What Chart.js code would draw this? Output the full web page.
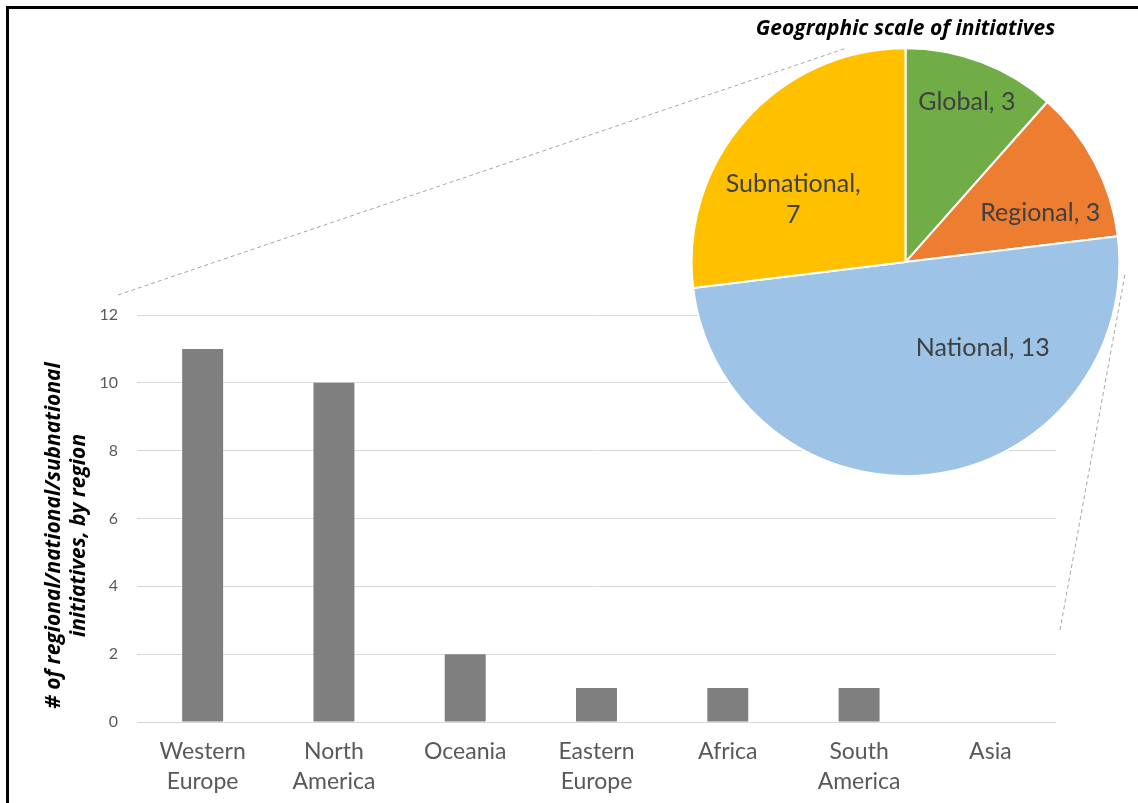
<!DOCTYPE html>
<html>
<head>
<meta charset="utf-8">
<script src="https://cdn.jsdelivr.net/npm/chart.js@4.4.1/dist/chart.umd.min.js"></script>
<style>
  html, body { margin: 0; padding: 0; background: #fff; overflow: hidden; }
  #frame { position: absolute; left: 6px; top: 6px; width: 1140px; height: 800px; border: 3px solid #000; }
  #bar-chart { position: absolute; left: 0; top: 0; }
  #pie-chart { position: absolute; left: 690px; top: 9px; }
</style>
</head>
<body>
<div id="frame"></div>
<canvas id="bar-chart" width="1138" height="803"></canvas>
<canvas id="pie-chart" width="431" height="468"></canvas>
<script>
// bar chart data
const regions = [['Western', 'Europe'], ['North', 'America'], ['Oceania'], ['Eastern', 'Europe'], ['Africa'], ['South', 'America'], ['Asia']];
const regionCounts = [11, 10, 2, 1, 1, 1, 0];
const yMin = 0;
const yMax = 12;
const yStep = 2;
const yTitle = ['# of regional/national/subnational', 'initiatives, by region'];

// pie data
const pieTitle = 'Geographic scale of initiatives';
const scaleLabels = ['Global', 'Regional', 'National', 'Subnational'];
const scaleCounts = [3, 3, 13, 7];
const scaleColors = ['#70ad47', '#ed7d31', '#9dc3e6', '#ffc000'];

// where each pie label sits: angle clockwise from 12 o'clock, fraction of radius
const labelSpots = [
  { angle: 21, r: 0.8 },
  { angle: 70, r: 0.67 },
  { angle: 138, r: 0.54 },
  { angle: 299, r: 0.6, wrap: true }
];

const FONT = 'Lato, "Open Sans", sans-serif';
const TITLE_FONT = '"Open Sans", Lato, sans-serif';
let pieChart = null;

const pieLabels = {
  id: 'pieLabels',
  afterDatasetsDraw(chart) {
    const ctx = chart.ctx;
    const arcs = chart.getDatasetMeta(0).data;
    ctx.save();
    ctx.font = '25px ' + FONT;
    ctx.fillStyle = '#404040';
    ctx.textAlign = 'center';
    ctx.textBaseline = 'middle';
    arcs.forEach((arc, i) => {
      const spot = labelSpots[i];
      const a = (spot.angle - 90) * Math.PI / 180;
      const cx = arc.x + Math.cos(a) * arc.outerRadius * spot.r;
      const cy = arc.y + Math.sin(a) * arc.outerRadius * spot.r;
      const value = chart.data.datasets[0].data[i];
      const lines = spot.wrap ? [scaleLabels[i] + ',', String(value)] : [scaleLabels[i] + ', ' + value];
      const lh = 31;
      lines.forEach((line, j) => {
        ctx.fillText(line, cx, cy + (j - (lines.length - 1) / 2) * lh);
      });
    });
    ctx.restore();
  }
};

const yAxisTitle = {
  id: 'yAxisTitle',
  afterDraw(chart) {
    const ctx = chart.ctx;
    const area = chart.chartArea;
    ctx.save();
    ctx.translate(54, area.top + area.height / 2 + 17);
    ctx.rotate(-Math.PI / 2);
    ctx.font = 'italic bold 21px ' + TITLE_FONT;
    ctx.fillStyle = '#000';
    ctx.textAlign = 'center';
    ctx.textBaseline = 'middle';
    yTitle.forEach((line, i) => ctx.fillText(line, 0, i * 25));
    ctx.restore();
  }
};

const connectors = {
  id: 'connectors',
  beforeDatasetsDraw(chart) {
    if (!pieChart) return;
    const arc = pieChart.getDatasetMeta(0).data[0];
    const pc = pieChart.canvas;
    const px = pc.offsetLeft + arc.x;
    const py = pc.offsetTop + arc.y;
    const r = arc.outerRadius;
    const onPie = (deg, extra) => {
      const a = (deg - 90) * Math.PI / 180;
      return [px + Math.cos(a) * (r + extra), py + Math.sin(a) * (r + extra)];
    };
    const area = chart.chartArea;
    const ctx = chart.ctx;
    ctx.save();
    ctx.strokeStyle = '#a6a6a6';
    ctx.lineWidth = 1;
    ctx.setLineDash([4, 3]);
    let end = onPie(344, 8);
    ctx.beginPath();
    ctx.moveTo(area.left - 19, area.top - 20);
    ctx.lineTo(end[0], end[1]);
    ctx.stroke();
    end = onPie(93, 6);
    ctx.beginPath();
    ctx.moveTo(area.right + 4, area.top + area.height * 0.774);
    ctx.lineTo(end[0], end[1]);
    ctx.stroke();
    ctx.restore();
  }
};

function drawCharts() {
  pieChart = new Chart(document.getElementById('pie-chart'), {
    type: 'pie',
    data: {
      labels: scaleLabels,
      datasets: [{
        data: scaleCounts,
        backgroundColor: scaleColors,
        borderColor: '#ffffff',
        borderWidth: 2
      }]
    },
    options: {
      responsive: false,
      animation: false,
      plugins: {
        legend: { display: false },
        tooltip: { enabled: false },
        title: {
          display: true,
          text: pieTitle,
          color: '#000',
          font: { family: TITLE_FONT, size: 21, weight: 'bold', style: 'italic', lineHeight: 1.2 },
          padding: { top: 7, bottom: 6 }
        }
      }
    },
    plugins: [pieLabels]
  });

  new Chart(document.getElementById('bar-chart'), {
    type: 'bar',
    data: {
      labels: regions,
      datasets: [{
        data: regionCounts,
        backgroundColor: '#7f7f7f',
        barPercentage: 0.312,
        categoryPercentage: 1
      }]
    },
    options: {
      responsive: false,
      animation: false,
      layout: { padding: { left: 0, top: 315, right: 82, bottom: 0 } },
      plugins: {
        legend: { display: false },
        tooltip: { enabled: false }
      },
      scales: {
        x: {
          grid: { display: false, drawTicks: false },
          border: { display: false },
          ticks: {
            color: '#595959',
            font: { family: FONT, size: 23, lineHeight: 1.3 },
            padding: 15,
            maxRotation: 0,
            autoSkip: false
          },
          afterFit(scale) { scale.height = 81; }
        },
        y: {
          min: yMin,
          max: yMax,
          grid: { color: '#d9d9d9', lineWidth: 1, drawTicks: false },
          border: { display: false },
          ticks: {
            stepSize: yStep,
            color: '#595959',
            font: { family: FONT, size: 16 },
            padding: 19
          },
          afterFit(scale) { scale.width = 137; }
        }
      }
    },
    plugins: [connectors, yAxisTitle]
  });
}

if (document.fonts && document.fonts.load) {
  Promise.all([
    document.fonts.load('20px Lato'),
    document.fonts.load('italic bold 21px "Open Sans"')
  ]).then(drawCharts, drawCharts);
} else {
  drawCharts();
}
</script>
</body>
</html>
